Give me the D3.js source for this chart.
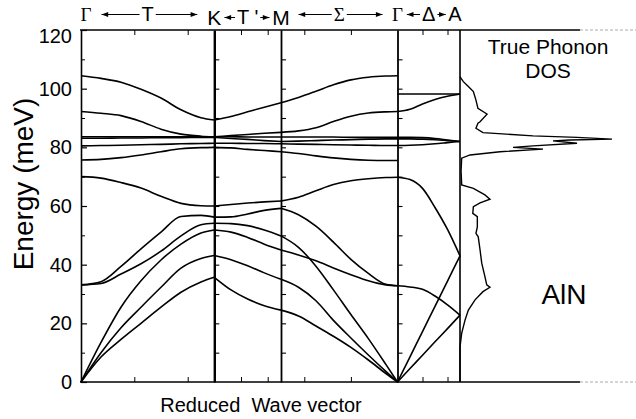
<!DOCTYPE html>
<html>
<head>
<meta charset="utf-8">
<script src="https://cdn.jsdelivr.net/npm/d3@7"></script>
<style>
body { margin: 0; background: #fff; }
svg { display: block; }
text { font-family: "Liberation Sans", Arial, sans-serif; fill: #000; }
</style>
</head>
<body>
<svg id="chart" width="636" height="419"></svg>
<script>
// high symmetry points along the path (reduced wave vector, Gamma-K = 4/3)
var symLabels = ['Γ', 'K', 'M', 'Γ', 'A'];
var symQ = [0, 1.333, 2.0, 3.165, 3.79];
var dirLabels = ['T', "T '", 'Σ', 'Δ'];
var qTicks = [0.533, 1.067, 1.6, 1.867, 2.233, 2.699, 3.415, 3.665];
var energyTicks = [0, 20, 40, 60, 80, 100, 120];
var minorTicks = [10, 30, 50, 70, 90, 110];
var lineTicks = [10, 20, 30, 40, 50, 60, 70, 80, 90, 100, 110];

// phonon branches (meV), sampled at fractions of each segment
var gridGK = [0, 0.15, 0.3, 0.45, 0.6, 0.75, 0.9, 1];
var bandsGK = [
  [104.4, 103.5, 102.2, 99.8, 96.8, 92.8, 90.1, 89.3],
  [92.2, 91.6, 90.8, 88.8, 86.2, 84.5, 83.8, 83.6],
  [83.6, 83.6, 83.6, 83.6, 83.6, 83.6, 83.6, 83.6],
  [83.1, 83.1, 83.2, 83.2, 83.3, 83.3, 83.4, 83.4],
  [80.5, 80.6, 80.7, 80.9, 81.0, 81.2, 81.3, 81.4],
  [75.7, 75.9, 76.5, 77.4, 78.5, 79.5, 79.9, 80.0],
  [70.0, 69.5, 68.0, 66.1, 63.3, 60.9, 60.1, 60.0],
  [33.1, 34.2, 39.4, 45.4, 51.1, 56.4, 56.8, 56.2],
  [33.1, 33.6, 36.8, 40.3, 44.6, 49.8, 53.6, 54.1],
  [0, 13.5, 25.5, 34.5, 41.6, 47.0, 50.8, 51.8],
  [0, 10.0, 18.5, 25.5, 32.3, 38.8, 42.1, 43.1],
  [0, 8.5, 14.5, 20.0, 25.5, 30.6, 34.1, 35.7]
];
var gridKM = [0, 0.25, 0.5, 0.75, 1];
var bandsKM = [
  [89.3, 90.5, 92.1, 93.7, 95.2],
  [83.6, 84.0, 84.4, 84.8, 85.1],
  [83.6, 83.6, 83.5, 83.5, 83.5],
  [83.4, 83.0, 82.7, 82.3, 82.0],
  [81.4, 81.4, 81.3, 81.3, 81.2],
  [80.0, 79.8, 79.3, 78.9, 78.5],
  [60.0, 60.5, 61.0, 61.4, 61.7],
  [56.2, 56.3, 57.3, 58.5, 59.2],
  [54.1, 54.0, 53.3, 51.8, 49.8],
  [51.8, 51.1, 49.3, 47.0, 45.0],
  [43.1, 41.7, 39.6, 37.2, 35.0],
  [35.7, 31.4, 28.3, 26.0, 24.5]
];
var gridMG = [0, 0.15, 0.3, 0.45, 0.6, 0.75, 0.9, 1];
var bandsMG = [
  [95.2, 97.0, 99.1, 101.3, 103.0, 103.9, 104.3, 104.4],
  [85.1, 85.6, 86.7, 88.8, 90.6, 91.7, 92.1, 92.2],
  [83.5, 83.5, 83.5, 83.5, 83.4, 83.4, 83.4, 83.4],
  [82.0, 82.1, 82.3, 82.5, 82.6, 82.8, 82.9, 82.9],
  [81.2, 81.1, 81.0, 80.9, 80.8, 80.7, 80.6, 80.6],
  [78.5, 77.9, 77.1, 76.4, 75.9, 75.6, 75.5, 75.5],
  [61.7, 63.0, 65.2, 67.3, 68.6, 69.3, 69.7, 69.8],
  [59.2, 57.0, 53.1, 47.7, 41.8, 37.0, 33.3, 32.8],
  [49.8, 45.9, 39.5, 31.4, 23.0, 14.8, 6.0, 0],
  [45.0, 43.3, 41.3, 38.9, 36.6, 34.5, 33.1, 32.8],
  [35.0, 32.3, 27.7, 21.0, 15.0, 9.2, 3.6, 0],
  [24.5, 22.5, 19.1, 15.6, 11.8, 7.5, 2.9, 0]
];
var gridGA = [0, 0.2, 0.4, 0.6, 0.8, 1];
var bandsGA = [
  [98.2, 98.2, 98.2, 98.2, 98.2, 98.2],
  [92.2, 93.0, 94.8, 96.3, 97.4, 98.2],
  [83.4, 83.4, 83.3, 83.0, 82.5, 82.0],
  [82.9, 82.9, 82.8, 82.6, 82.3, 82.0],
  [80.6, 80.7, 80.9, 81.2, 81.6, 82.0],
  [69.8, 69.0, 66.0, 59.5, 52.0, 43.0],
  [32.8, 32.4, 31.6, 29.3, 26.3, 22.8],
  [0, 8.6, 17.2, 25.8, 34.4, 43.0],
  [0, 4.6, 9.1, 13.7, 18.2, 22.8]
];

// phonon density of states (arbitrary units, peak = 100)
var dosEnergy = [0, 12.0, 16.6, 21.1, 24.5, 28.0, 30.8, 32.3, 33.1, 35.9, 40.5, 45.0, 49.5, 50.7, 52.9, 56.4, 57.5, 59.8, 61.1, 62.3,
  63.8, 66.0, 67.2, 72.0, 76.3, 77.4, 78.5, 79.4, 80.0, 80.5, 81.4, 82.2, 82.5, 82.8, 83.4, 83.9, 85.0, 86.5, 88.2, 88.7,
  91.3, 91.8, 93.3, 96.1, 99.0, 100.7, 102.4, 103.5, 104.1];
var dosValue = [0, 0, 1.1, 3.3, 5.5, 9.9, 15.1, 19.7, 17.6, 16.4, 14.3, 13.2, 12.0, 10.5, 11.4, 11.4, 8.4, 8.8, 13.2, 19.7,
  16.4, 8.8, 1.1, 0.7, 1.1, 6.6, 26.3, 54.6, 34.9, 48.0, 77.0, 61.2, 72.4, 100, 77.0, 48.0, 15.1, 10.5, 11.8, 13.2,
  17.8, 16.4, 11.8, 10.5, 8.8, 5.5, 2.2, 0.7, 0];

var segments = [
  {grid: gridGK, bands: bandsGK, from: 0, to: 1},
  {grid: gridKM, bands: bandsKM, from: 1, to: 2},
  {grid: gridMG, bands: bandsMG, from: 2, to: 3},
  {grid: gridGA, bands: bandsGA, from: 3, to: 4}
];

var svg = d3.select('#chart');
var xScale = d3.scaleLinear().domain([0, 3.79]).range([81, 460]);
var yScale = d3.scaleLinear().domain([0, 120]).range([382, 30]);
var dosScale = d3.scaleLinear().domain([0, 100]).range([460, 612]);

var defs = svg.append('defs');
defs.append('marker').attr('id', 'ah').attr('viewBox', '0 0 8 6').attr('refX', 8).attr('refY', 3)
  .attr('markerWidth', 8).attr('markerHeight', 5).attr('markerUnits', 'userSpaceOnUse').attr('orient', 'auto')
  .append('path').attr('d', 'M0,0L8,3L0,6Z').attr('fill', '#000');

// frame top / bottom
[30, 382].forEach(function(yy) {
  svg.append('line').attr('x1', 80).attr('x2', 580).attr('y1', yy).attr('y2', yy).attr('stroke', '#000').attr('stroke-width', 1.4);
  svg.append('line').attr('x1', 580).attr('x2', 636).attr('y1', yy).attr('y2', yy).attr('stroke', '#aaa').attr('stroke-width', 1).attr('stroke-dasharray', '3,2');
});

// left energy axis
var leftAxis = svg.append('g').attr('transform', 'translate(81,0)')
  .call(d3.axisLeft(yScale).tickValues(energyTicks).tickSizeInner(-6).tickSizeOuter(0).tickPadding(9));
leftAxis.select('.domain').attr('stroke-width', 1.6);
leftAxis.selectAll('.tick line').attr('stroke-width', 1.2);
leftAxis.selectAll('text').style('font-size', '20px').style('font-family', '"Liberation Sans", Arial, sans-serif');
leftAxis.selectAll('.tick').filter(function(d) { return d === 120; }).select('text').attr('y', 6);

var leftMinor = svg.append('g').attr('transform', 'translate(81,0)')
  .call(d3.axisLeft(yScale).tickValues(minorTicks).tickSizeInner(-4).tickSizeOuter(0).tickFormat(''));
leftMinor.select('.domain').remove();

// vertical lines at K, M and Gamma with ticks
[1, 2, 3].forEach(function(i) {
  var g = svg.append('g').attr('transform', 'translate(' + xScale(symQ[i]) + ',0)')
    .call(d3.axisRight(yScale).tickValues(lineTicks).tickSize(5).tickSizeOuter(0).tickFormat(''));
  g.select('.domain').attr('stroke-width', i === 1 ? 2.4 : 1.8);
  g.selectAll('.tick line').attr('stroke-width', 1.1);
});
svg.append('line').attr('x1', xScale(symQ[4])).attr('x2', xScale(symQ[4])).attr('y1', 30).attr('y2', 382)
  .attr('stroke', '#000').attr('stroke-width', 1.6);

// wave vector ticks top and bottom
var topTicks = svg.append('g').attr('transform', 'translate(0,30)')
  .call(d3.axisBottom(xScale).tickValues(qTicks).tickSize(5).tickFormat(''));
topTicks.select('.domain').remove();
var botTicks = svg.append('g').attr('transform', 'translate(0,382)')
  .call(d3.axisTop(xScale).tickValues(qTicks).tickSize(5).tickFormat(''));
botTicks.select('.domain').remove();
svg.selectAll('.tick line').attr('stroke', '#000');

// dispersion curves
var bandLine = d3.line()
  .x(function(d) { return xScale(d[0]); })
  .y(function(d) { return yScale(d[1]); })
  .curve(d3.curveMonotoneX);
var bandsG = svg.append('g').attr('fill', 'none').attr('stroke', '#000').attr('stroke-width', 1.6);
segments.forEach(function(seg) {
  var q0 = symQ[seg.from], q1 = symQ[seg.to];
  seg.bands.forEach(function(vals) {
    var pts = vals.map(function(e, k) { return [q0 + seg.grid[k] * (q1 - q0), e]; });
    bandsG.append('path').attr('d', bandLine(pts));
  });
});

// density of states
var dosLine = d3.line()
  .x(function(d, i) { return dosScale(dosValue[i]); })
  .y(function(d) { return yScale(d); });
svg.append('path').attr('d', dosLine(dosEnergy)).attr('fill', 'none').attr('stroke', '#000').attr('stroke-width', 1.4);

// symmetry labels and arrows
var symNodes = symLabels.map(function(s, i) {
  var low = (s === 'K' || s === 'M');
  return svg.append('text')
    .attr('x', Math.max(86, Math.min(455, xScale(symQ[i]))))
    .attr('y', low ? 25 : 21)
    .attr('text-anchor', 'middle')
    .style('font-family', s === 'Γ' ? '"Liberation Serif", serif' : '"Liberation Sans", Arial, sans-serif')
    .style('font-size', s === 'Γ' ? '19px' : (low ? '21px' : '20px'))
    .text(s).node();
});
dirLabels.forEach(function(s, i) {
  var cx = (xScale(symQ[i]) + xScale(symQ[i + 1])) / 2;
  var base = i === 1 ? 24 : 21;
  var node = svg.append('text').attr('x', cx).attr('y', base).attr('text-anchor', 'middle')
    .style('font-family', s === 'Σ' ? '"Liberation Serif", serif' : '"Liberation Sans", Arial, sans-serif')
    .style('font-size', s === 'Σ' ? '19px' : '20px')
    .text(s).node();
  var b = node.getBBox();
  var pl = symNodes[i].getBBox(), pr = symNodes[i + 1].getBBox();
  var ay = base - 6.5;
  var availL = b.x - (pl.x + pl.width), availR = pr.x - (b.x + b.width);
  var gapL = Math.max(1.5, Math.min(10, availL * 0.2)), gapR = Math.max(1.5, Math.min(10, availR * 0.2));
  svg.append('line').attr('x1', b.x - 2).attr('x2', pl.x + pl.width + gapL).attr('y1', ay).attr('y2', ay)
    .attr('stroke', '#000').attr('stroke-width', 1).attr('marker-end', 'url(#ah)');
  svg.append('line').attr('x1', b.x + b.width + 2).attr('x2', pr.x - gapR).attr('y1', ay).attr('y2', ay)
    .attr('stroke', '#000').attr('stroke-width', 1).attr('marker-end', 'url(#ah)');
});

// titles and annotations
svg.append('text').attr('transform', 'translate(33,184) rotate(-90)').attr('text-anchor', 'middle')
  .style('font-size', '28px').text('Energy (meV)');
svg.append('text').attr('x', 261).attr('y', 411.5).attr('text-anchor', 'middle')
  .style('font-size', '20px').style('white-space', 'pre').text('Reduced  Wave vector');
svg.append('text').attr('x', 548).attr('y', 53.5).attr('text-anchor', 'middle').style('font-size', '21px').text('True Phonon');
svg.append('text').attr('x', 548).attr('y', 77.5).attr('text-anchor', 'middle').style('font-size', '21px').text('DOS');
svg.append('text').attr('x', 564).attr('y', 303.5).attr('text-anchor', 'middle').style('font-size', '28px').text('AlN');
</script>
</body>
</html>
